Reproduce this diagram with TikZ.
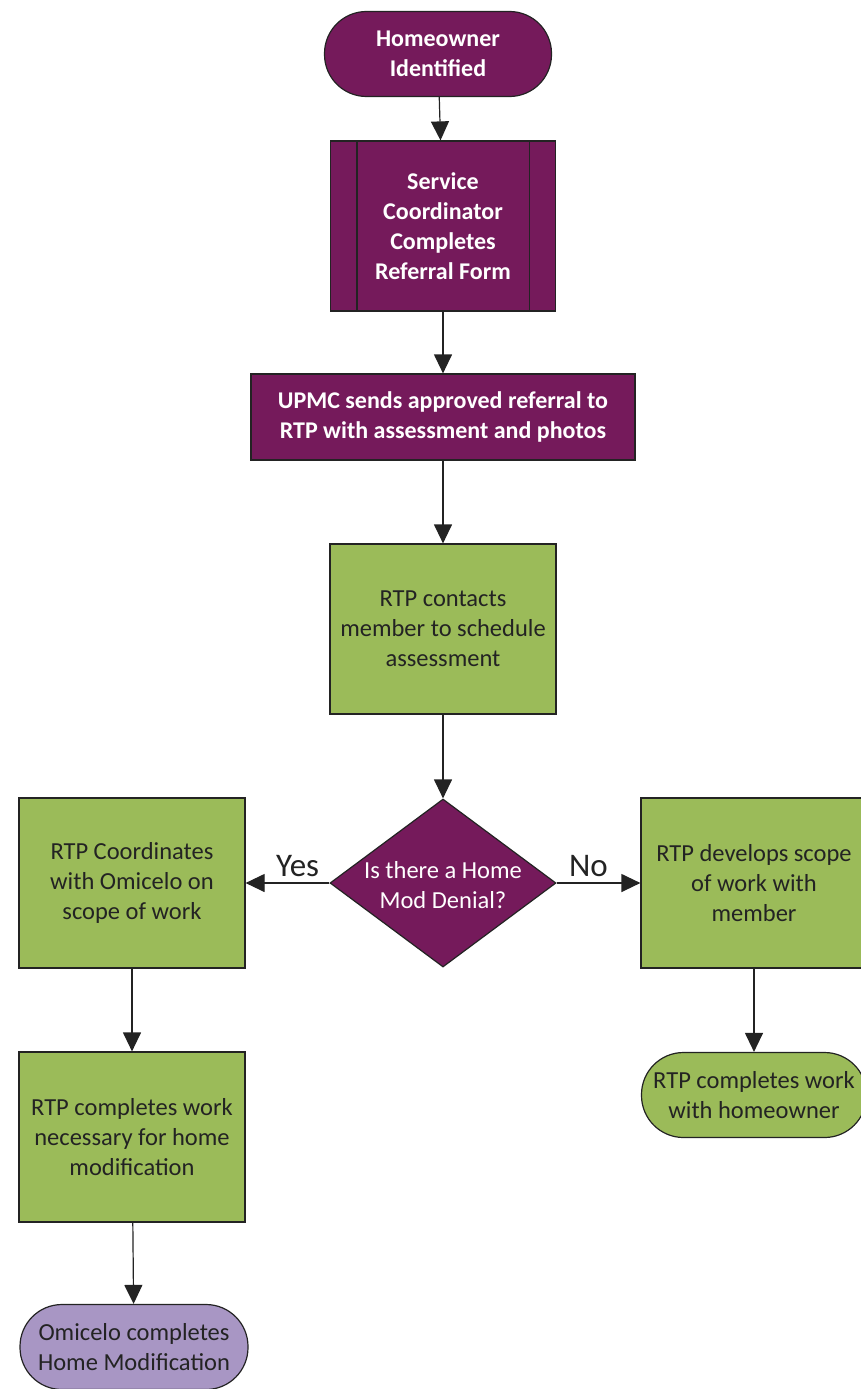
\documentclass[tikz,border=0pt]{standalone}
\usepackage{fontspec}
\setmainfont{Carlito}
\usetikzlibrary{arrows.meta, positioning, calc, shapes.geometric}
\definecolor{hmPurple}{RGB}{117,26,91}
\definecolor{hmGreen}{RGB}{155,187,89}
\definecolor{hmLilac}{RGB}{168,150,196}
\definecolor{hmInk}{RGB}{35,35,35}

\begin{document}
\begin{tikzpicture}[x=1pt,y=-1pt,line width=1.2pt,
  font=\fontsize{24.5}{30}\selectfont,
  term/.style={rectangle,rounded corners=42pt,draw=hmInk,minimum width=227pt,
               minimum height=85pt,inner sep=0pt,align=center},
  proc/.style={rectangle,draw=hmInk,fill=hmGreen,text=hmInk,
               minimum width=226pt,minimum height=170pt,inner sep=0pt,
               align=center},
  hot/.style={draw=hmInk,fill=hmPurple,text=white,inner sep=0pt,
              align=center,font=\fontsize{24}{30}\selectfont\bfseries},
  ask/.style={diamond,draw=hmInk,fill=hmPurple,inner sep=0pt,
              minimum width=226pt,minimum height=168pt},
  flow/.style={draw=hmInk,-{Triangle[length=19pt,width=18pt]}},
  tag/.style={font=\fontsize{33}{36}\selectfont,text=hmInk,inner sep=0pt}]

\useasboundingbox (0,0) rectangle (861,1389);
\clip (0,0) rectangle (861,1389);

% ===== main column =====
\node[term,hot] (start) at (438,54) {Homeowner\\Identified};
\node[hot,rectangle,minimum width=225pt,minimum height=170pt]
  (refform) at (443,226) {Service\\Coordinator\\Completes\\Referral Form};
\draw[draw=hmInk] ([xshift=27pt]refform.north west) -- ([xshift=27pt]refform.south west);
\draw[draw=hmInk] ([xshift=-27pt]refform.north east) -- ([xshift=-27pt]refform.south east);
\node[hot,rectangle,minimum width=384pt,minimum height=86pt]
  (upmc) at (443,417) {UPMC sends approved referral to\\RTP with assessment and photos};
\node[proc] (contact) at (443,629) {RTP contacts\\member to schedule\\assessment};
\node[ask] (denial) at (443,883) {};
\node[text=white,align=center,inner sep=0pt] (denialtxt) at (443,885)
  {Is there a Home\\Mod Denial?};

% ===== yes branch =====
\node[proc] (coord) at (132,883) {RTP Coordinates\\with Omicelo on\\scope of work};
\node[proc] (prep) at (132,1137) {RTP completes work\\necessary for home\\modification};
\node[term,fill=hmLilac,text=hmInk,minimum width=228pt] (omicelo) at (134,1347)
  {Omicelo completes\\Home Modification};

% ===== no branch =====
\node[proc] (scope) at (754,883) {RTP develops scope\\of work with\\member};
\node[term,fill=hmGreen,text=hmInk,minimum width=225pt] (finish) at (754,1095)
  {RTP completes work\\with homeowner};

% ===== connectors =====
\draw[flow] (start) -- (refform);
\draw[flow] (refform) -- (upmc);
\draw[flow] (upmc) -- (contact);
\draw[flow] (contact) -- (denial);
\draw[flow] (denial) -- node[tag,above=6pt,pos=0.38] (yes) {Yes} (coord);
\draw[flow] (denial) -- node[tag,above=6pt,pos=0.38] (no) {No} (scope);
\draw[flow] (coord) -- (prep);
\draw[flow] (prep) -- (omicelo);
\draw[flow] (scope) -- (finish);
\end{tikzpicture}
\end{document}
